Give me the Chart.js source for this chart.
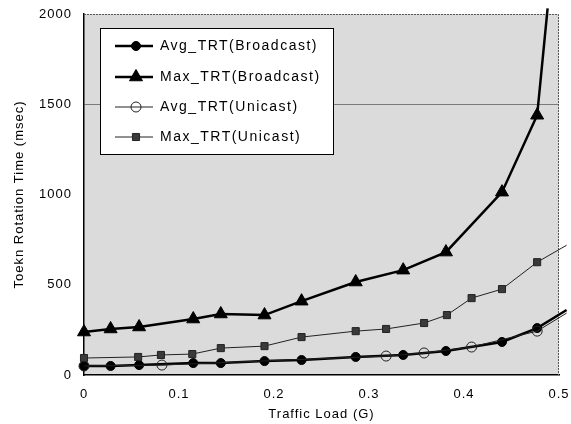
<!DOCTYPE html>
<html>
<head>
<meta charset="utf-8">
<script src="https://cdn.jsdelivr.net/npm/chart.js@4"></script>
<style>
html,body{margin:0;padding:0;background:#fff;}
#wrap{width:571px;height:424px;position:relative;}
</style>
</head>
<body>
<div id="wrap"><canvas id="c" width="571" height="424"></canvas></div>
<script>
// ---- data ----
const seriesLabels = ['Avg_TRT(Broadcast)', 'Max_TRT(Broadcast)', 'Avg_TRT(Unicast)', 'Max_TRT(Unicast)'];

const avgBroadX = [0, 0.028, 0.058, 0.115, 0.144, 0.19, 0.229, 0.286, 0.336, 0.381, 0.44, 0.477, 0.508];
const avgBroadY = [50, 50, 55, 66, 66, 77, 83, 100, 111, 133, 183, 260, 360];

const maxBroadX = [0, 0.028, 0.058, 0.115, 0.144, 0.19, 0.229, 0.286, 0.336, 0.381, 0.44, 0.477, 0.488];
const maxBroadY = [238, 255, 266, 310, 338, 332, 409, 515, 581, 681, 1013, 1439, 2031];

const avgUniX = [0, 0.082, 0.318, 0.358, 0.408, 0.477, 0.508];
const avgUniY = [50, 55, 105, 122, 155, 243, 343];

const maxUniX = [0, 0.057, 0.081, 0.114, 0.144, 0.19, 0.229, 0.286, 0.318, 0.358, 0.382, 0.408, 0.44, 0.477, 0.508];
const maxUniY = [94, 100, 111, 116, 149, 160, 210, 243, 255, 288, 332, 426, 476, 625, 719];

const xTickLabels = ['0', '0.1', '0.2', '0.3', '0.4', '0.5'];
const yTickLabels = ['0', '500', '1000', '1500', '2000'];
const xTitle = 'Traffic Load (G)';
const yTitle = 'Toekn Rotation Time (msec)';

function pts(xs, ys){ return xs.map((x,i)=>({x:x, y:ys[i]})); }
// last point of each series is the line end (no marker)
function radii(n, r){ return Array.from({length:n}, (_,i)=> i===n-1 ? 0 : r); }

const FONT = "'Liberation Sans', Arial, sans-serif";

const styles = [
  {pointStyle:'circle', radius:4.5, bg:'#000', border:'#000', lw:2.5, pbw:1},
  {pointStyle:'triangle', radius:7.5, bg:'#000', border:'#000', lw:2.5, pbw:1},
  {pointStyle:'circle', radius:5, bg:'rgba(255,255,255,0)', border:'#222', lw:1, pbw:1},
  {pointStyle:'rect', radius:5, bg:'#3a3a3a', border:'#222', lw:1, pbw:1}
];

const rawSeries = [
  pts(avgBroadX, avgBroadY),
  pts(maxBroadX, maxBroadY),
  pts(avgUniX, avgUniY),
  pts(maxUniX, maxUniY)
];

// draw order: unicast first, broadcast on top
const order = [3, 2, 1, 0];
const datasets = rawSeries.map((d,i)=>({
  label: seriesLabels[i],
  data: d,
  borderColor: styles[i].border,
  backgroundColor: styles[i].bg,
  borderWidth: styles[i].lw,
  pointStyle: styles[i].pointStyle,
  pointRadius: radii(d.length, styles[i].radius),
  pointBorderWidth: styles[i].pbw,
  pointBorderColor: styles[i].border,
  pointBackgroundColor: styles[i].bg,
  tension: 0,
  clip: false,
  order: order[i]
}));

const bgPlugin = {
  id:'bg',
  beforeDraw(chart){
    const {ctx, chartArea:a} = chart;
    ctx.letterSpacing = '1px';
    ctx.save();
    ctx.fillStyle = '#dbdbdb';
    ctx.fillRect(a.left, a.top, a.right-a.left, a.bottom-a.top);
    ctx.restore();
  },
  beforeDatasetsDraw(chart){
    const {ctx, chartArea:a} = chart;
    ctx.save();
    ctx.strokeStyle = '#555';
    ctx.lineWidth = 1;
    ctx.setLineDash([2,1]);
    ctx.beginPath();
    ctx.moveTo(a.left, a.top+0.5);
    ctx.lineTo(a.right-0.5, a.top+0.5);
    ctx.lineTo(a.right-0.5, a.bottom);
    ctx.stroke();
    ctx.restore();
  }
};

const legendPlugin = {
  id:'boxLegend',
  afterDraw(chart){
    const ctx = chart.ctx;
    const a = chart.chartArea;
    const bx = a.left + 16, by = a.top + 14, bw = 233, bh = 126;
    ctx.save();
    ctx.letterSpacing = '1.5px';
    ctx.fillStyle = '#fff';
    ctx.fillRect(bx, by, bw, bh);
    ctx.strokeStyle = '#000';
    ctx.lineWidth = 1;
    ctx.strokeRect(bx+0.5, by+0.5, bw, bh);
    const rowOff = [32, 63, 93, 123];
    for (let i=0;i<4;i++){
      const y = a.top + rowOff[i];
      const s = styles[i];
      ctx.strokeStyle = s.border;
      ctx.lineWidth = s.lw;
      ctx.setLineDash([]);
      ctx.beginPath();
      ctx.moveTo(bx+15, y);
      ctx.lineTo(bx+53, y);
      ctx.stroke();
      ctx.fillStyle = s.bg;
      ctx.strokeStyle = s.border;
      ctx.lineWidth = s.pbw;
      Chart.helpers.drawPoint(ctx, {pointStyle:s.pointStyle, radius:s.radius, rotation:0, borderWidth:s.pbw}, bx+36, y);
      ctx.fillStyle = '#000';
      ctx.font = '14px ' + FONT;
      ctx.textBaseline = 'middle';
      ctx.textAlign = 'left';
      ctx.fillText(chart.data.datasets[i].label, bx+60, y);
    }
    ctx.restore();
  }
};

new Chart(document.getElementById('c'), {
  type:'line',
  data:{datasets},
  plugins:[bgPlugin, legendPlugin],
  options:{
    responsive:false,
    animation:false,
    layout:{padding:{top:14, right:12, left:0, bottom:0}},
    plugins:{legend:{display:false}, tooltip:{enabled:false}},
    scales:{
      x:{
        type:'linear', min:0, max:0.5,
        afterFit(s){ s.height = 49; s.paddingLeft = 0; s.paddingRight = 0; },
        grid:{color:'rgba(0,0,0,0)', drawTicks:false},
        border:{color:'#000', width:1.5},
        ticks:{stepSize:0.1, padding:12, color:'#000', font:{family:FONT, size:13},
          callback:(v,i)=> xTickLabels[i]},
        title:{display:true, text:xTitle, color:'#000', font:{family:FONT, size:13}, padding:{top:2,bottom:2}}
      },
      y:{
        type:'linear', min:0, max:2000,
        afterFit(s){ s.width = 84; s.paddingTop = 0; s.paddingBottom = 0; },
        grid:{color:(c)=> (c.tick && c.tick.value===1500) ? '#7a7a7a' : 'rgba(0,0,0,0)', drawTicks:false},
        border:{color:'#000', width:1.5},
        ticks:{stepSize:500, padding:12, color:'#000', font:{family:FONT, size:13},
          callback:(v,i)=> yTickLabels[i]},
        title:{display:true, text:yTitle, color:'#000', font:{family:FONT, size:13}, padding:{top:12,bottom:0}}
      }
    }
  }
});
</script>
</body>
</html>
